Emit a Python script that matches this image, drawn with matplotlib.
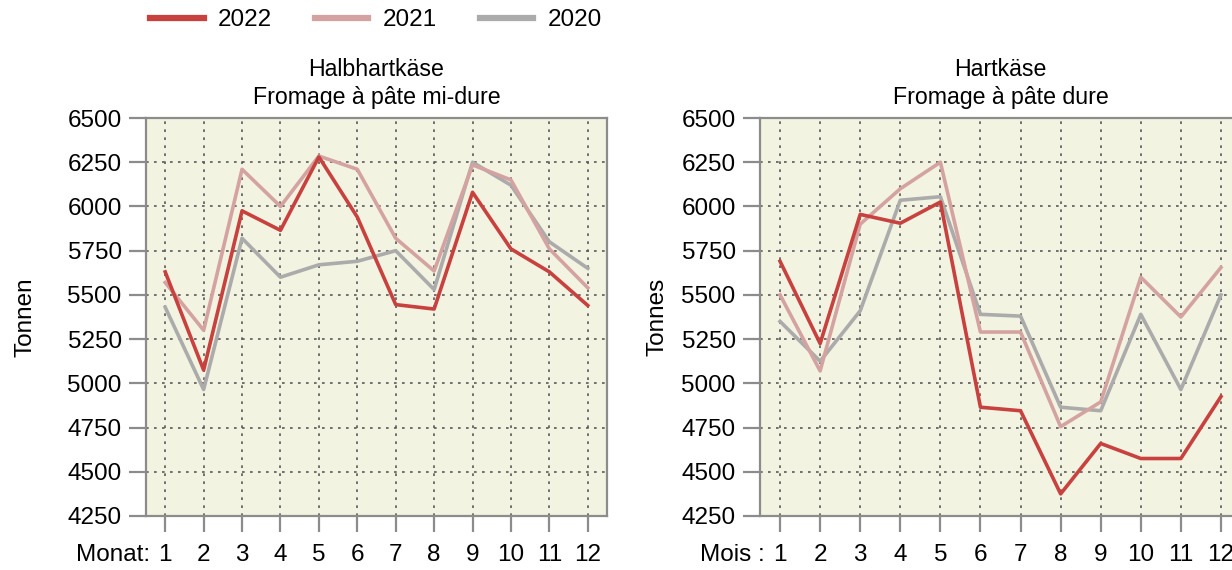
import matplotlib
matplotlib.use("Agg")
import matplotlib.pyplot as plt
from matplotlib.lines import Line2D
from matplotlib.transforms import blended_transform_factory

plt.rcParams["font.family"] = ["Liberation Sans", "DejaVu Sans"]
plt.rcParams["font.size"] = 17.5

months = list(range(1, 13))
years = ["2022", "2021", "2020"]
colors = {"2022": "#c8413f", "2021": "#d4a3a1", "2020": "#ababab"}

# Halbhartkäse (tonnes)
semi_2022 = [5630, 5075, 5975, 5865, 6280, 5940, 5445, 5420, 6080, 5760, 5630, 5440]
semi_2021 = [5570, 5300, 6210, 6000, 6285, 6210, 5820, 5635, 6235, 6150, 5760, 5540]
semi_2020 = [5430, 4965, 5820, 5600, 5670, 5690, 5750, 5530, 6250, 6120, 5800, 5650]

# Hartkäse (tonnes)
hard_2022 = [5690, 5225, 5955, 5905, 6025, 4865, 4845, 4375, 4660, 4575, 4575, 4925]
hard_2021 = [5500, 5070, 5900, 6100, 6250, 5290, 5290, 4755, 4895, 5600, 5375, 5655]
hard_2020 = [5350, 5125, 5410, 6035, 6055, 5390, 5380, 4865, 4845, 5390, 4965, 5500]

y_ticks = list(range(4250, 6501, 250))

panels = [
    dict(rect=[146 / 1232, 54 / 570, 461 / 1232, 398 / 570],
         title="Halbhartkäse\nFromage à pâte mi-dure",
         data={"2022": semi_2022, "2021": semi_2021, "2020": semi_2020},
         ylabel="Tonnen", ylabel_x=25 / 1232, xlab="Monat:", xlab_x=0.62),
    dict(rect=[760 / 1232, 54 / 570, 481 / 1232, 398 / 570],
         title="Hartkäse\nFromage à pâte dure",
         data={"2022": hard_2022, "2021": hard_2021, "2020": hard_2020},
         ylabel="Tonnes", ylabel_x=657 / 1232, xlab="Mois :", xlab_x=0.62),
]

fig = plt.figure(figsize=(12.32, 5.70), dpi=100)

for p in panels:
    ax = fig.add_axes(p["rect"])
    ax.set_facecolor("#f3f3e1")
    # draw oldest first so 2022 is on top
    for yr in reversed(years):
        ax.plot(months, p["data"][yr], color=colors[yr], lw=2.6, zorder=3)
    ax.set_xlim(0.5, 12.5)
    ax.set_ylim(4250, 6500)
    ax.set_xticks(months)
    ax.set_yticks(y_ticks)
    ax.grid(True, linestyle=(0, (1.6, 3.2)), color="#5a5a5a", linewidth=1.2)
    ax.set_axisbelow(True)
    for s in ax.spines.values():
        s.set_color("#8c8c8c")
        s.set_linewidth(1.6)
    ax.tick_params(axis="y", length=12.5, width=1.6, color="#8c8c8c", pad=5)
    ax.tick_params(axis="x", length=11.5, width=1.6, color="#8c8c8c", pad=9)
    ax.set_title(p["title"], fontsize=16.7, linespacing=1.3, pad=10)
    # same vertical spot as the x tick labels (tick length + pad = 20.5 pt)
    trans = blended_transform_factory(ax.transData, ax.transAxes)
    ax.text(p["xlab_x"], -20.5 * 100 / 72 / 398, p["xlab"], transform=trans,
            ha="right", va="top", fontsize=17.5)
    fig.text(p["ylabel_x"], 1 - 317 / 570, p["ylabel"], rotation=90,
             ha="center", va="center", fontsize=17.5)

handles = [Line2D([0], [0], color=colors[yr], lw=4.5) for yr in years]
fig.legend(handles, years, loc="center", bbox_to_anchor=(376 / 1232, 1 - 20 / 570),
           ncol=3, frameon=False, handlelength=2.2, handletextpad=0.6,
           columnspacing=1.75, fontsize=17.5)

fig.savefig("out.png", dpi=100)
